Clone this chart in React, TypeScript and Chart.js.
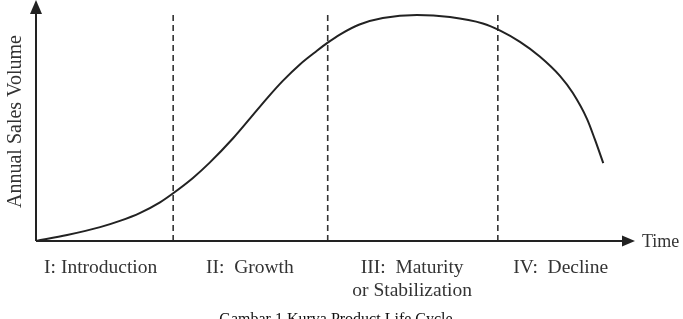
import React, { useEffect, useRef } from "react";
import { Chart, registerables } from "chart.js";

Chart.register(...registerables);

// Product life cycle curve (time 0..100, sales volume 0..100)
const curveTime = [0, 5.2, 10.7, 14, 17.4, 20.7, 22.9, 26.2, 29, 32.9, 35.7, 38.6, 41.2, 44.1, 46.9, 48.7, 50.8, 54, 57.9, 63.6, 69.1, 74.6, 77.5, 80.8, 84.1, 87.5, 89.6, 92.0, 93.3, 94.7];
const curveVolume = [0, 2.5, 5.8, 8.4, 11.8, 16.2, 20.0, 26.4, 32.8, 43.0, 51.2, 59.8, 67.0, 74.0, 79.6, 83.0, 86.5, 90.6, 93.3, 94.6, 93.7, 91.0, 88.0, 83.3, 77.2, 69.0, 62.0, 51.0, 42.5, 32.6];

// Stage boundaries (dashed lines)
const stageBoundaries = [22.9, 48.7, 77.1];
const boundaryTop = 95.8;

// Stage labels and their centers
const stageLabels: (string | string[])[] = [
  "I: Introduction",
  "II:  Growth",
  ["III:  Maturity", "or Stabilization"],
  "IV:  Decline",
];
const stageCenters = [10.8, 35.7, 62.8, 87.6];

const yAxisTitle = "Annual Sales Volume";
const xAxisTitle = "Time";
const caption = "Gambar 1 Kurva Product Life Cycle";

const FONT = "'Liberation Serif', 'Times New Roman', serif";

const decorPlugin = {
  id: "decor",
  afterDatasetsDraw(chart: any) {
    const { ctx, chartArea, scales } = chart;
    const xs = scales.x;
    const ys = scales.y;
    const x0 = chartArea.left;
    const y0 = chartArea.bottom;
    ctx.save();
    ctx.strokeStyle = "#222";
    ctx.fillStyle = "#222";
    ctx.lineWidth = 2;
    // x axis
    const xTip = chartArea.right;
    ctx.beginPath();
    ctx.moveTo(x0, y0);
    ctx.lineTo(xTip - 10, y0);
    ctx.stroke();
    ctx.beginPath();
    ctx.moveTo(xTip, y0);
    ctx.lineTo(xTip - 13, y0 - 5.5);
    ctx.lineTo(xTip - 13, y0 + 5.5);
    ctx.closePath();
    ctx.fill();
    // y axis
    const yTip = 0;
    ctx.beginPath();
    ctx.moveTo(x0, y0);
    ctx.lineTo(x0, yTip + 10);
    ctx.stroke();
    ctx.beginPath();
    ctx.moveTo(x0, yTip);
    ctx.lineTo(x0 - 6, yTip + 14);
    ctx.lineTo(x0 + 6, yTip + 14);
    ctx.closePath();
    ctx.fill();

    // Stage labels
    ctx.fillStyle = "#333";
    ctx.font = `19.5px ${FONT}`;
    ctx.textAlign = "center";
    ctx.textBaseline = "middle";
    stageLabels.forEach((lab, i) => {
      const px = xs.getPixelForValue(stageCenters[i]);
      const lines = Array.isArray(lab) ? lab : [lab];
      lines.forEach((l, j) => {
        ctx.fillText(l, px, y0 + 27 + j * 23);
      });
    });

    // Time label
    ctx.textAlign = "left";
    ctx.font = `18px ${FONT}`;
    ctx.fillText(xAxisTitle, xTip + 7, y0 + 1);

    // Y title
    ctx.save();
    ctx.translate(16, ys.getPixelForValue(50));
    ctx.rotate(-Math.PI / 2);
    ctx.textAlign = "center";
    ctx.font = `20px ${FONT}`;
    ctx.fillText(yAxisTitle, 0, 0);
    ctx.restore();

    // Caption
    ctx.fillStyle = "#111";
    ctx.font = `16px ${FONT}`;
    ctx.textAlign = "center";
    ctx.textBaseline = "alphabetic";
    ctx.fillText(caption, 336, 324);
    ctx.restore();
  },
};

export default function App() {
  const ref = useRef<HTMLCanvasElement>(null);
  useEffect(() => {
    document.body.style.margin = "0";
    const curve = curveTime.map((t, i) => ({ x: t, y: curveVolume[i] }));
    const boundarySets = stageBoundaries.map((b) => ({
      data: [
        { x: b, y: 0 },
        { x: b, y: boundaryTop },
      ],
      borderColor: "#333",
      borderWidth: 1.6,
      borderDash: [6, 4],
      pointRadius: 0,
      tension: 0,
      fill: false,
    }));
    const chart = new Chart(ref.current!, {
      type: "line",
      data: {
        datasets: [
          {
            data: curve,
            borderColor: "#222",
            borderWidth: 2,
            pointRadius: 0,
            cubicInterpolationMode: "monotone",
            fill: false,
          } as any,
          ...boundarySets,
        ],
      },
      options: {
        animation: false,
        responsive: false,
        maintainAspectRatio: false,
        layout: { padding: { left: 36, right: 48, top: 2, bottom: 78 } },
        plugins: { legend: { display: false }, tooltip: { enabled: false } },
        scales: {
          x: { type: "linear", min: 0, max: 100, display: false },
          y: { type: "linear", min: 0, max: 100, display: false },
        },
      },
      plugins: [decorPlugin],
    });
    return () => chart.destroy();
  }, []);
  return (
    <div style={{ width: 683, height: 319, background: "#fff" }}>
      <canvas ref={ref} width={683} height={319} />
    </div>
  );
}
